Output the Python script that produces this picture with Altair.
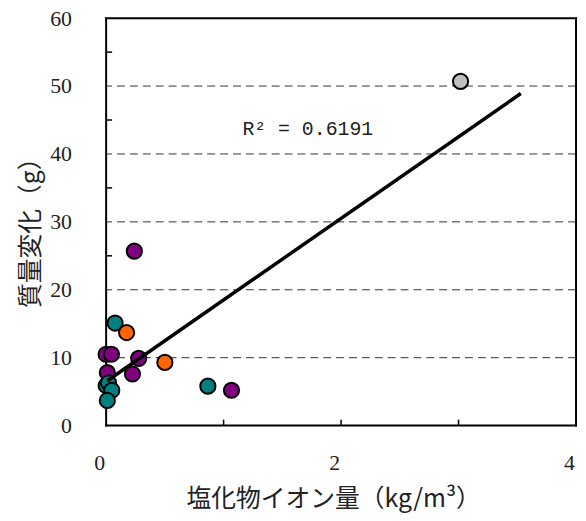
import altair as alt
import pandas as pd

# data
purple_x = [0.24, 0.0, 0.045, 0.277, 0.01, 0.224, 1.067]
purple_y = [25.7, 10.5, 10.5, 9.9, 7.8, 7.6, 5.2]
teal_x = [0.076, 0.0, 0.02, 0.048, 0.01, 0.866]
teal_y = [15.1, 5.9, 6.3, 5.2, 3.7, 5.8]
orange_x = [0.174, 0.50]
orange_y = [13.7, 9.3]
grey_x = [3.017]
grey_y = [50.7]

trend_x = [0.01, 3.53]
trend_y = [6.6, 48.9]

grid_y = [10, 20, 30, 40, 50]
minor_y = [5, 15, 25, 35, 45, 55]
minor_x = [1, 2, 3]
y_labels = [0, 10, 20, 30, 40, 50, 60]
x_labels = [0, 2, 4]
x_domain = [0, 4]
y_domain = [0, 60]

r2_text = "R² = 0.6191"
r2_pos = (1.16, 43.6)

series_names = ["A", "B", "C", "D"]
series_colors = ["#800080", "#008080", "#FF6600", "#C0C0C0"]

rows = []
for name, xs, ys in zip(series_names, [purple_x, teal_x, orange_x, grey_x],
                        [purple_y, teal_y, orange_y, grey_y]):
    for a, b in zip(xs, ys):
        rows.append({"x": a, "y": b, "s": name})
pts = pd.DataFrame(rows)
pts["o"] = range(len(pts))

W, H = 474, 411
LBL = "Liberation Serif, DejaVu Serif, serif"
CJK = "Noto Sans CJK JP"

xs = alt.Scale(domain=x_domain, nice=False, zero=False)
ys = alt.Scale(domain=y_domain, nice=False, zero=False)

x_axis = alt.Axis(values=x_labels, format="d", title="塩化物イオン量（kg/m³）", grid=False, ticks=False,
                  tickSize=0, domain=False, labelFont=LBL, labelFontSize=22,
                  labelColor="#222222", labelPadding=27, labelOffset=-7,
                  titleFont=CJK, titleFontSize=25, titleFontWeight="normal",
                  titleColor="#222222", titleX=229, titleY=74, titleBaseline="middle",
                  titleAlign="center", labelFlush=False)
y_axis = alt.Axis(values=y_labels, format="d", title="質量変化（g）", grid=False, ticks=False,
                  tickSize=0, domain=False, labelFont=LBL, labelFontSize=22,
                  labelColor="#222222", labelPadding=35,
                  titleFont=CJK, titleFontSize=25, titleFontWeight="normal",
                  titleColor="#222222", titleX=-76, titleY=210, titleAngle=-90,
                  titleBaseline="middle", titleAlign="center", labelFlush=False)

grid = alt.Chart(pd.DataFrame({"y": grid_y})).mark_rule(
    color="#333333", strokeWidth=1, strokeDash=[8, 5]
).encode(y=alt.Y("y:Q", scale=ys, axis=y_axis))

yticks = alt.Chart(pd.DataFrame({"y": minor_y})).mark_rule(
    color="black", strokeWidth=1.5
).encode(y=alt.Y("y:Q", scale=ys), x=alt.value(0), x2=alt.value(6))

xticks = alt.Chart(pd.DataFrame({"x": minor_x})).mark_rule(
    color="black", strokeWidth=1.5
).encode(x=alt.X("x:Q", scale=xs, axis=x_axis), y=alt.value(H), y2=alt.value(H - 6))

# frame: horizontal edges at y-domain ends, vertical edges at x-domain ends
hframe = alt.Chart(pd.DataFrame({"y": y_domain})).mark_rule(
    color="#000000", strokeWidth=2, opacity=1
).encode(y=alt.Y("y:Q", scale=ys), x=alt.value(-1), x2=alt.value(W + 1))
vframe = alt.Chart(pd.DataFrame({"x": x_domain})).mark_rule(
    color="#000000", strokeWidth=2, opacity=1
).encode(x=alt.X("x:Q", scale=xs), y=alt.value(-1), y2=alt.value(H + 1))

points = alt.Chart(pts).mark_circle(size=235, opacity=1, stroke="black", strokeWidth=2).encode(
    x=alt.X("x:Q", scale=xs),
    y=alt.Y("y:Q", scale=ys),
    color=alt.Color("s:N", scale=alt.Scale(domain=series_names, range=series_colors), legend=None),
    order=alt.Order("o:Q"),
)

trend = alt.Chart(pd.DataFrame({"x": trend_x, "y": trend_y})).mark_line(
    color="black", strokeWidth=3.5
).encode(x=alt.X("x:Q", scale=xs), y=alt.Y("y:Q", scale=ys))

label = alt.Chart(pd.DataFrame({"x": [r2_pos[0]], "y": [r2_pos[1]], "t": [r2_text]})).mark_text(
    font="Liberation Mono", fontSize=20, align="left", baseline="middle", color="#222222"
).encode(x=alt.X("x:Q", scale=xs), y=alt.Y("y:Q", scale=ys), text="t:N")

chart = alt.layer(grid, yticks, xticks, hframe, vframe, points, trend, label).properties(
    width=W, height=H,
    autosize=alt.AutoSizeParams(type="none"),
    padding={"left": 99, "top": 8, "right": 2, "bottom": 92},
    background="white",
).configure_view(stroke=None)

chart.save("out.html", embed_options={"renderer": "svg", "actions": False})
